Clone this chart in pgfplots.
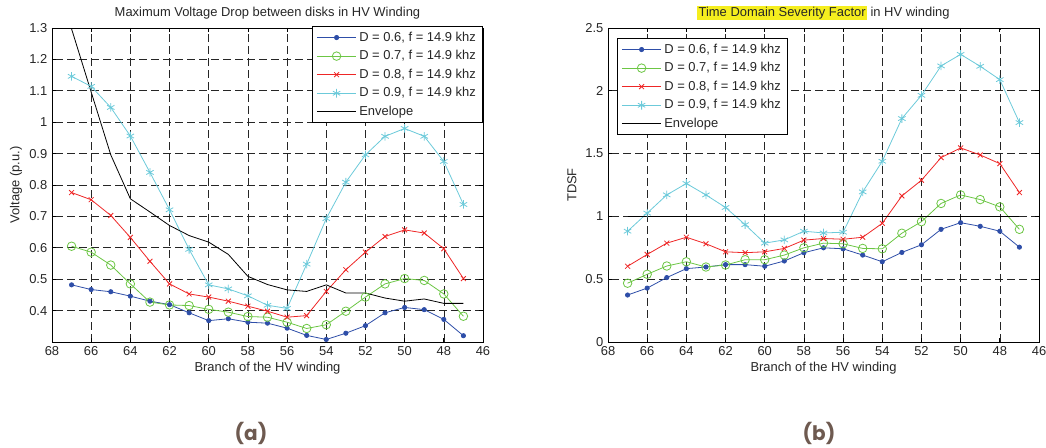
\documentclass[border=0pt]{standalone}
\usepackage{fontspec}
\setmainfont{Liberation Sans}
\newfontfamily\poppins{Poppins}
\usepackage{pgfplots}
\pgfplotsset{compat=1.18}
\definecolor{mblue}{HTML}{2E4EA8}
\definecolor{mgreen}{HTML}{6CC644}
\definecolor{mred}{HTML}{EE2626}
\definecolor{mcyan}{HTML}{6CCADA}
\definecolor{hlyellow}{HTML}{F5EE1E}
\definecolor{capbrown}{HTML}{6E5A50}
\newcommand\hl[1]{{\setlength{\fboxsep}{1pt}\colorbox{hlyellow}{#1}}}

\pgfplotsset{
  matlab/.style={
    scale only axis,
    width=323.25pt, height=235.5pt,
    x dir=reverse, xmin=46, xmax=68,
    xtick={46,48,...,68},
    grid=major,
    major grid style={black!85, line width=0.45pt, dash pattern=on 6pt off 3pt},
    axis line style={black, line width=0.7pt},
    tick align=inside, major tick length=3pt,
    tick style={black, line width=0.5pt},
    font=\fontsize{9.7}{11.6}\selectfont,
    /pgf/number format/assume math mode=true,
    /pgf/number format/fixed,
    ticklabel style={font=\fontsize{9.7}{11.6}\selectfont, text=black!85},
    title style={at={(0.5,1)}, anchor=center, yshift=5.25pt, inner sep=0pt, text=black!85},
    xlabel style={at={(axis description cs:0.5,0)}, anchor=center, yshift=-19.5pt, inner sep=0pt, text=black!85},
    ylabel style={at={(axis description cs:0,0.5)}, anchor=center, yshift=27pt, inner sep=0pt, text=black!85},
    xlabel={Branch of the HV winding},
    legend cell align=left,
    legend style={draw=black, line width=0.8pt, fill=white,
      font=\fontsize{9.7}{11.6}\selectfont, row sep=1.4pt,
      inner xsep=3pt, inner ysep=2pt,
      nodes={text=black!85}},
    legend image code/.code={
      \draw[mark repeat=2, mark phase=2] plot coordinates {(0pt,0pt) (14.75pt,0pt) (29.5pt,0pt)};},
    every axis plot/.append style={line width=0.6pt},
  },
  s6/.style={color=mblue, mark=*, mark size=1.6pt, mark options={solid, fill=mblue}},
  s7/.style={color=mgreen, mark=o, mark size=3.2pt, mark options={solid}},
  s8/.style={color=mred, mark=x, mark size=2.6pt, mark options={solid}},
  s9/.style={color=mcyan, mark=asterisk, mark size=3.2pt, mark options={solid}},
  env/.style={color=black, no marks, line width=0.6pt},
}

\begin{document}
\begin{tikzpicture}
\useasboundingbox (0,0) rectangle (784.5pt,336pt);

% (a) voltage drop
\begin{axis}[matlab,
  at={(39pt,79.5pt)}, anchor=south west,
  ymin=0.3, ymax=1.3, ytick={0.4,0.5,...,1.3},
  title={Maximum Voltage Drop between disks in HV Winding},
  ylabel={Voltage (p.u.)},
  legend style={at={(1,1)}, anchor=north east, yshift=1.5pt},
]
\addplot[s6] coordinates {(67,0.482)(66,0.467)(65,0.460)(64,0.446)(63,0.430)(62,0.419)(61,0.393)(60,0.368)(59,0.374)(58,0.363)(57,0.360)(56,0.344)(55,0.321)(54,0.308)(53,0.328)(52,0.352)(51,0.393)(50,0.410)(49,0.403)(48,0.372)(47,0.320)};
\addplot[s7] coordinates {(67,0.605)(66,0.586)(65,0.545)(64,0.485)(63,0.427)(62,0.418)(61,0.416)(60,0.404)(59,0.395)(58,0.381)(57,0.379)(56,0.363)(55,0.343)(54,0.355)(53,0.398)(52,0.443)(51,0.485)(50,0.502)(49,0.496)(48,0.453)(47,0.382)};
\addplot[s8] coordinates {(67,0.776)(66,0.753)(65,0.703)(64,0.633)(63,0.557)(62,0.485)(61,0.453)(60,0.443)(59,0.430)(58,0.414)(57,0.398)(56,0.379)(55,0.384)(54,0.461)(53,0.530)(52,0.586)(51,0.636)(50,0.657)(49,0.647)(48,0.597)(47,0.502)};
\addplot[s9] coordinates {(67,1.146)(66,1.114)(65,1.047)(64,0.956)(63,0.840)(62,0.721)(61,0.595)(60,0.482)(59,0.469)(58,0.447)(57,0.417)(56,0.407)(55,0.548)(54,0.693)(53,0.809)(52,0.896)(51,0.955)(50,0.980)(49,0.955)(48,0.875)(47,0.738)};
\addplot[env] coordinates {(67,1.297)(66,1.096)(65,0.896)(64,0.756)(63,0.714)(62,0.671)(61,0.639)(60,0.618)(59,0.579)(58,0.509)(57,0.483)(56,0.466)(55,0.461)(54,0.482)(53,0.456)(52,0.456)(51,0.440)(50,0.430)(49,0.437)(48,0.423)(47,0.423)};
\legend{D = 0.6{,} f = 14.9 khz, D = 0.7{,} f = 14.9 khz, D = 0.8{,} f = 14.9 khz, D = 0.9{,} f = 14.9 khz, Envelope}
\end{axis}

% (b) TDSF
\begin{axis}[matlab,
  at={(456pt,79.5pt)}, anchor=south west,
  ymin=0, ymax=2.5, ytick={0,0.5,...,2.5},
  title={\hl{Time Domain Severity Factor} in HV winding},
  ylabel={TDSF},
  legend style={at={(0,1)}, anchor=north west, xshift=6.75pt, yshift=-7.5pt},
]
\addplot[s6] coordinates {(67,0.374)(66,0.429)(65,0.513)(64,0.584)(63,0.597)(62,0.616)(61,0.616)(60,0.603)(59,0.645)(58,0.711)(57,0.750)(56,0.742)(55,0.692)(54,0.639)(53,0.713)(52,0.774)(51,0.897)(50,0.950)(49,0.921)(48,0.882)(47,0.755)};
\addplot[s7] coordinates {(67,0.468)(66,0.539)(65,0.605)(64,0.639)(63,0.597)(62,0.613)(61,0.655)(60,0.655)(59,0.692)(58,0.750)(57,0.787)(56,0.782)(55,0.745)(54,0.742)(53,0.866)(52,0.958)(51,1.103)(50,1.171)(49,1.134)(48,1.076)(47,0.897)};
\addplot[s8] coordinates {(67,0.603)(66,0.697)(65,0.787)(64,0.834)(63,0.782)(62,0.718)(61,0.711)(60,0.718)(59,0.745)(58,0.811)(57,0.824)(56,0.818)(55,0.834)(54,0.945)(53,1.163)(52,1.288)(51,1.468)(50,1.545)(49,1.489)(48,1.420)(47,1.190)};
\addplot[s9] coordinates {(67,0.882)(66,1.026)(65,1.171)(64,1.262)(63,1.171)(62,1.071)(61,0.934)(60,0.787)(59,0.813)(58,0.882)(57,0.868)(56,0.874)(55,1.195)(54,1.439)(53,1.779)(52,1.964)(51,2.198)(50,2.290)(49,2.195)(48,2.089)(47,1.747)};
\addplot[env] coordinates {(67,1)(66,1)(65,1)(64,1)(63,1)(62,1)(61,1)(60,1)(59,1)(58,1)(57,1)(56,1)(55,1)(54,1)(53,1)(52,1)(51,1)(50,1)(49,1)(48,1)(47,1)};
\legend{D = 0.6{,} f = 14.9 khz, D = 0.7{,} f = 14.9 khz, D = 0.8{,} f = 14.9 khz, D = 0.9{,} f = 14.9 khz, Envelope}
\end{axis}

\node[font=\poppins\bfseries\fontsize{15}{18}\selectfont, text=capbrown] at (188.25pt,11.25pt) {(a)};
\node[font=\poppins\bfseries\fontsize{15}{18}\selectfont, text=capbrown] at (614.25pt,11.25pt) {(b)};
\end{tikzpicture}
\end{document}
